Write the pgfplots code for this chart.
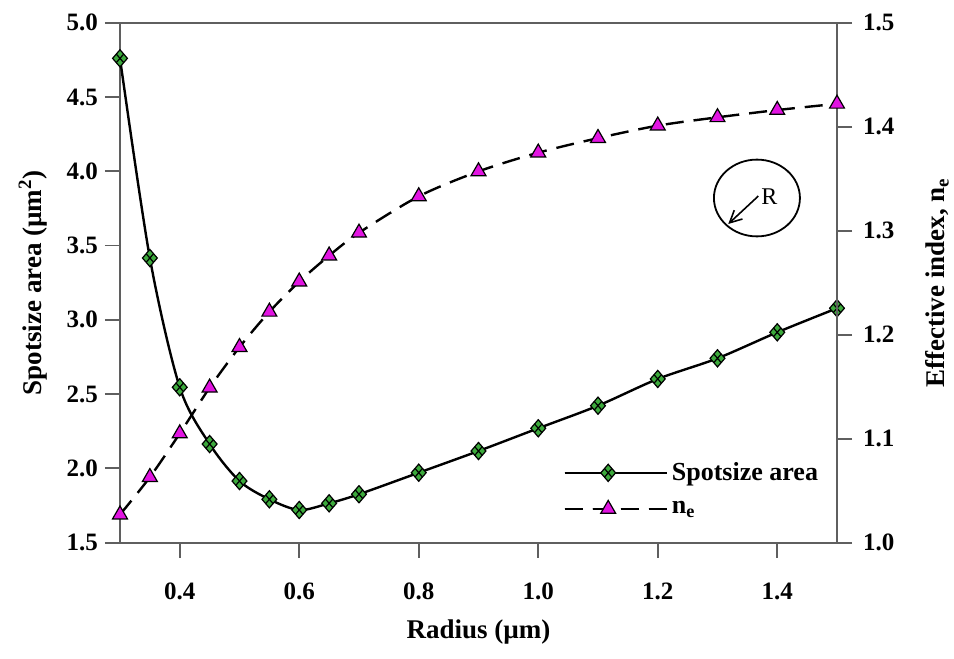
\documentclass[border=0pt]{standalone}
\usepackage{fontspec}
\setmainfont{Liberation Serif}
\usepackage{pgfplots}
\usepackage{pgfplotstable}
\pgfplotsset{compat=1.18}
\usetikzlibrary{arrows.meta}
\definecolor{mkgreen}{RGB}{60,170,60}
\definecolor{mkmag}{RGB}{225,20,225}
\definecolor{spine}{RGB}{95,95,95}

\pgfdeclareplotmark{diamx}{%
  \pgfpathmoveto{\pgfqpoint{0pt}{1.1\pgfplotmarksize}}%
  \pgfpathlineto{\pgfqpoint{0.95\pgfplotmarksize}{0pt}}%
  \pgfpathlineto{\pgfqpoint{0pt}{-1.1\pgfplotmarksize}}%
  \pgfpathlineto{\pgfqpoint{-0.95\pgfplotmarksize}{0pt}}%
  \pgfpathclose
  \pgfusepathqfillstroke
  \pgfpathmoveto{\pgfqpoint{0.475\pgfplotmarksize}{0.55\pgfplotmarksize}}%
  \pgfpathlineto{\pgfqpoint{-0.475\pgfplotmarksize}{-0.55\pgfplotmarksize}}%
  \pgfpathmoveto{\pgfqpoint{-0.475\pgfplotmarksize}{0.55\pgfplotmarksize}}%
  \pgfpathlineto{\pgfqpoint{0.475\pgfplotmarksize}{-0.55\pgfplotmarksize}}%
  \pgfusepathqstroke
}

\pgfplotstableread{
x y
0.30 4.760
0.35 3.416
0.40 2.546
0.45 2.164
0.50 1.915
0.55 1.792
0.60 1.720
0.65 1.765
0.70 1.826
0.80 1.971
0.90 2.117
1.00 2.270
1.10 2.422
1.20 2.602
1.30 2.741
1.40 2.916
1.50 3.078
}\spotdata

\pgfplotstableread{
x y
0.30 1.027
0.35 1.063
0.40 1.105
0.45 1.149
0.50 1.188
0.55 1.222
0.60 1.251
0.65 1.276
0.70 1.298
0.80 1.333
0.90 1.357
1.00 1.375
1.10 1.389
1.20 1.401
1.30 1.409
1.40 1.416
1.50 1.422
}\nedata

\newcommand{\tickfont}{\fontsize{12.5}{14}\selectfont\bfseries}
\newcommand{\labfont}{\fontsize{13.5}{15}\selectfont\bfseries}

\pgfplotsset{
  common/.style={
    scale only axis, width=358.5pt, height=260pt,
    xmin=0.3, xmax=1.5,
    tick align=outside, major tick length=7.5pt,
    tick style={spine, line width=0.9pt},
    axis line style={spine, line width=0.9pt},
    ticklabel style={font=\tickfont},
    /pgf/number format/assume math mode=true,
    y tick label style={/pgf/number format/.cd, fixed, fixed zerofill, precision=1, /tikz/.cd},
    x tick label style={/pgf/number format/.cd, fixed, fixed zerofill, precision=1, /tikz/.cd},
  },
  spotstyle/.style={black, line width=1.2pt, smooth, mark=diamx, mark size=3.9pt,
    mark options={solid, fill=mkgreen, draw=black, line width=0.6pt}},
  nestyle/.style={black, line width=1.2pt, smooth, dash pattern=on 9pt off 5pt, mark=triangle*, mark size=4.3pt,
    mark options={solid, fill=mkmag, draw=black, line width=0.6pt}},
}

\begin{document}
\begin{tikzpicture}
\begin{axis}[common, name=ax,
  ymin=1.5, ymax=5.0, ytick={1.5,2.0,2.5,3.0,3.5,4.0,4.5,5.0},
  xtick={0.4,0.6,0.8,1.0,1.2,1.4},
  xtick pos=bottom, ytick pos=left,
  x tick label style={yshift=-9pt},
  xlabel={Radius (µm)},
  ylabel={Spotsize area (µm\textsuperscript{2})},
  every axis x label/.style={at={(axis description cs:0.5,-0.1712)}, anchor=center, font=\labfont},
  every axis y label/.style={at={(axis description cs:-0.1213,0.5)}, anchor=center, rotate=90, font=\labfont},
]
\addplot[spotstyle] table {\spotdata};
\draw[black, line width=0.9pt] (axis cs:1.366,3.820) ellipse [x radius=21.5pt, y radius=19.2pt];
\draw[black, line width=0.8pt, -{Straight Barb[length=6pt,width=6pt]}] (axis cs:1.3683,3.833) -- (axis cs:1.318,3.645);
\node[font=\fontsize{12}{14}\selectfont, anchor=center] at (axis cs:1.387,3.83) {R};
\end{axis}
\begin{axis}[common,
  ymin=1.0, ymax=1.5, ytick={1.0,1.1,1.2,1.3,1.4,1.5},
  axis y line*=right, axis x line=none,
  y tick label style={xshift=2pt},
  ylabel={Effective index, n\textsubscript{e}},
  every axis y label/.style={at={(axis description cs:1.1395,0.5)}, anchor=center, rotate=90, font=\labfont},
  legend style={draw=none, fill=none, at={(axis description cs:0.618,0.1023)}, anchor=west,
    inner sep=0pt, row sep=5pt, font=\fontsize{13}{15}\selectfont\bfseries},
  legend cell align=left,
  legend image code/.code={\path (0pt,0pt) -- (51pt,0pt);\draw[#1, mark repeat=2, mark phase=2] plot coordinates {(0pt,0pt) (21.75pt,0pt) (43.5pt,0pt)};},
]
\addlegendimage{spotstyle}
\addlegendentry{Spotsize area}
\addplot[nestyle] table {\nedata};
\addlegendentry{n\textsubscript{e}}
\end{axis}
\pgfresetboundingbox
\path[use as bounding box] ([xshift=-60pt,yshift=-58.15pt]ax.south west) rectangle ([xshift=58.5pt,yshift=11.35pt]ax.north east);
\end{tikzpicture}
\end{document}
